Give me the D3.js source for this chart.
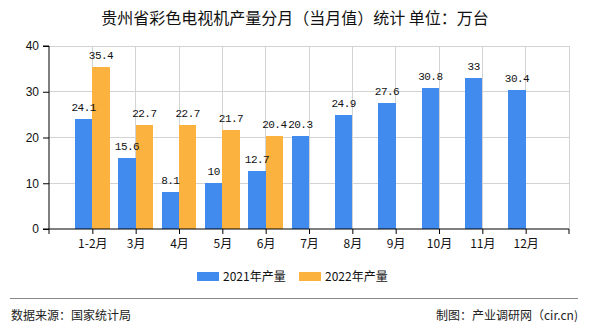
<!DOCTYPE html>
<html><head><meta charset="utf-8">
<script src="https://cdn.jsdelivr.net/npm/d3@7/dist/d3.min.js"></script>
<style>
body{margin:0;background:#fff;}
svg{display:block;}
text{font-family:"Noto Sans CJK SC","DejaVu Sans",sans-serif;}
</style></head>
<body><svg id="c" width="590" height="330"></svg>
<script>
const categories = ["1-2月","3月","4月","5月","6月","7月","8月","9月","10月","11月","12月"];
const values2021 = [24.1,15.6,8.1,10,12.7,20.3,24.9,27.6,30.8,33,30.4];
const values2022 = [35.4,22.7,22.7,21.7,20.4,null,null,null,null,null,null];
const seriesNames = ["2021年产量","2022年产量"];
const yTicks = [0,10,20,30,40];
const colors = ["#418bef","#fcb23f"];

const svg = d3.select("#c");
const L=49, R=569, T=46, B=229;
const x = d3.scalePoint().domain(categories).range([L,R]).padding(1);
const step = x.step();
const y = d3.scaleLinear().domain([0,40]).range([B,T]);
const bw = step*0.4;

// title
svg.append("text").attr("x",295).attr("y",24).attr("text-anchor","middle")
  .attr("font-size",16).attr("fill","#111").text("贵州省彩色电视机产量分月（当月值）统计  单位：万台");

// grid
const g = svg.append("g");
g.selectAll(".hg").data(yTicks.filter(d=>d>0)).join("line")
  .attr("x1",L).attr("x2",R).attr("y1",d=>y(d)).attr("y2",d=>y(d))
  .attr("stroke","#d3d3d3").attr("stroke-width",1).attr("shape-rendering","crispEdges");
const vPos = categories.map(c=>x(c)).concat([R]);
g.selectAll(".vg").data(vPos).join("line")
  .attr("x1",d=>d).attr("x2",d=>d).attr("y1",T).attr("y2",B)
  .attr("stroke","#d3d3d3").attr("stroke-width",1).attr("shape-rendering","crispEdges");

// bars
const series = [values2021, values2022];
const barLayer = svg.append("g");
const labelLayer = svg.append("g");
series.forEach((vals,si)=>{
  const data = categories.map((c,i)=>({c, v: vals[i]})).filter(d=>d.v!=null);
  barLayer.append("g").selectAll("rect").data(data).join("rect")
    .attr("x",d=>x(d.c) - bw + si*bw).attr("width",bw)
    .attr("y",d=>y(d.v)).attr("height",d=>B-y(d.v))
    .attr("fill",colors[si]).attr("shape-rendering","crispEdges");
  labelLayer.append("g").selectAll("text").data(data).join("text")
    .attr("x",d=>x(d.c) - bw + si*bw + bw/2).attr("y",d=>y(d.v)-8)
    .attr("text-anchor","middle").attr("font-size",11)
    .style("font-family","'Liberation Mono','DejaVu Sans Mono',monospace")
    .attr("letter-spacing","-0.5").attr("fill","#111")
    .text(d=>d.v);
});

// y axis
const ya = svg.append("g").attr("transform",`translate(${L},0)`)
  .call(d3.axisLeft(y).tickValues(yTicks).tickSize(6).tickPadding(4));
ya.select(".domain").attr("stroke","#000").attr("d",`M-6,${T}H0V${B}H-6`);
ya.selectAll("line").attr("stroke","#000");
ya.selectAll("text").attr("font-size",12).attr("fill","#111")
  .style("font-family","'Liberation Sans','DejaVu Sans',sans-serif");

// x axis
const xa = svg.append("g").attr("transform",`translate(0,${B})`)
  .call(d3.axisBottom(x).tickSize(5).tickPadding(5));
xa.select(".domain").attr("stroke","#000").attr("d",`M${L},5V0H${R}V5`);
xa.selectAll("line").attr("stroke","#000");
xa.selectAll("text").attr("font-size",12).attr("fill","#111");

// legend
const lg = svg.append("g");
const legX = [197,299];
seriesNames.forEach((n,i)=>{
  lg.append("rect").attr("x",legX[i]).attr("y",272).attr("width",22).attr("height",9).attr("fill",colors[i]);
  lg.append("text").attr("x",legX[i]+26).attr("y",281).attr("font-size",12).attr("fill","#111").text(n);
});

// footer
svg.append("line").attr("x1",10).attr("x2",578).attr("y1",298.5).attr("y2",298.5).attr("stroke","#888").attr("stroke-width",1);
svg.append("text").attr("x",11).attr("y",320).attr("font-size",12).attr("fill","#222").text("数据来源：国家统计局");
svg.append("text").attr("x",578).attr("y",320).attr("text-anchor","end").attr("font-size",12).attr("fill","#222").text("制图：产业调研网（cir.cn)");
</script></body></html>
